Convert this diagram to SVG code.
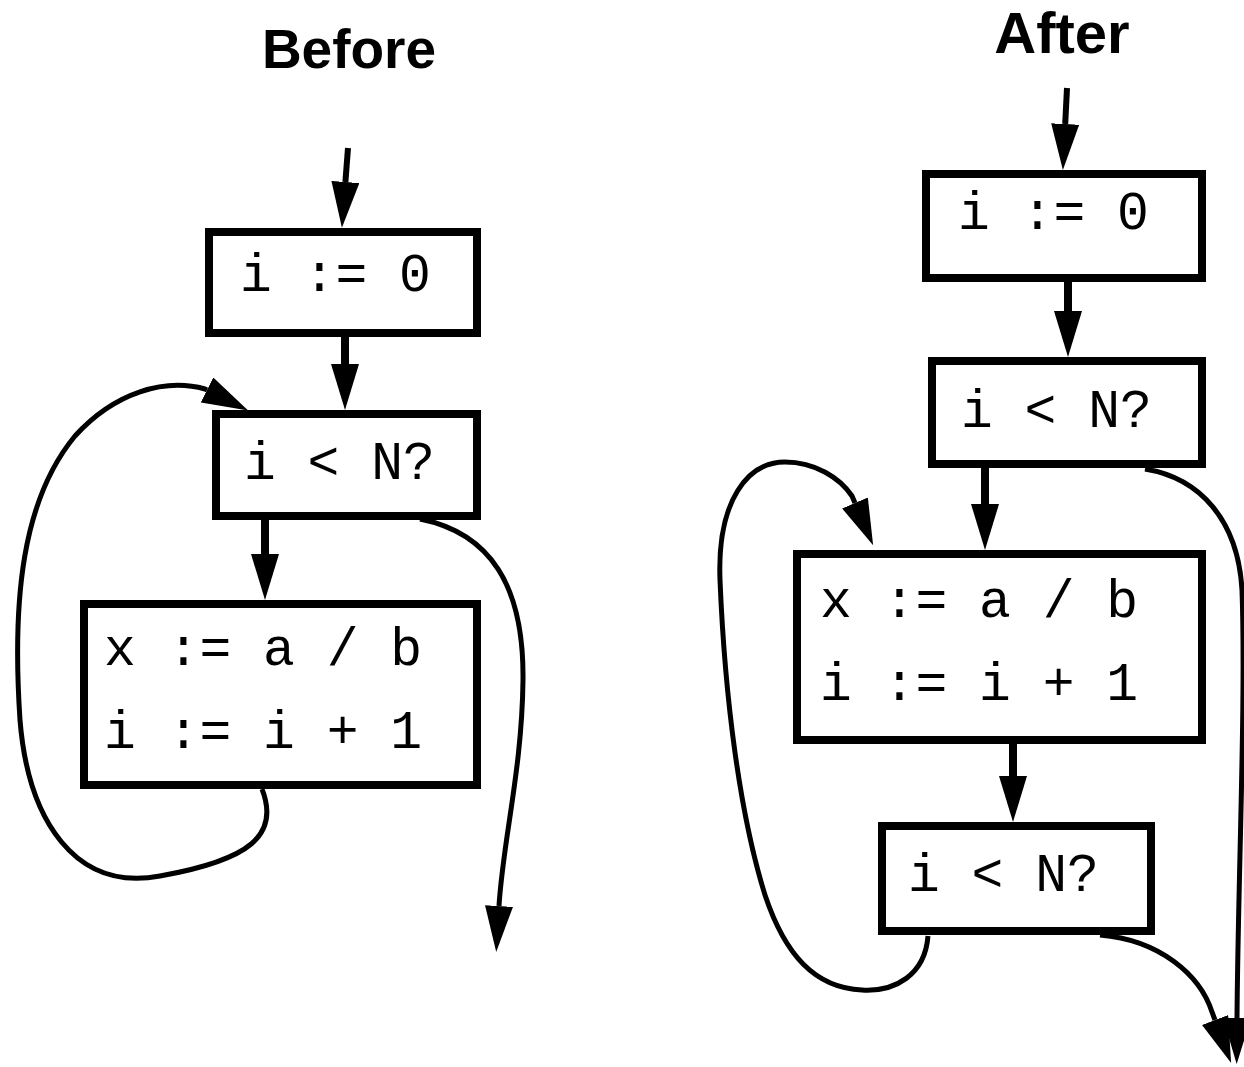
<svg xmlns="http://www.w3.org/2000/svg" width="1244" height="1067" viewBox="0 0 1244 1067">
<style>
.box{fill:#fff;stroke:#000;stroke-width:8}
.code{font-family:"Liberation Mono","DejaVu Sans Mono",monospace;font-size:53px;fill:#000}
.title{font-family:"Liberation Sans",Arial,sans-serif;font-weight:bold;font-size:55px;fill:#000;text-anchor:middle}
.thick{fill:none;stroke:#000;stroke-width:8;marker-end:url(#ah)}
.thin{fill:none;stroke:#000;stroke-width:5;marker-end:url(#ah)}
</style>
<defs>
<marker id="ah" viewBox="0 0 46 28" refX="0" refY="14" markerWidth="46" markerHeight="28" markerUnits="userSpaceOnUse" orient="auto">
<path d="M0,0 L46,14 L0,28 z" fill="#000"/>
</marker>
</defs>
<rect width="1244" height="1067" fill="#fff"/>
<text class="title" x="349" y="68">Before</text>
<text class="title" x="1062" y="53" style="font-size:58px">After</text>
<g id="L1"><rect class="box" x="209" y="232" width="268" height="101"/><text class="code" x="240" y="291" xml:space="preserve">i := 0</text></g>
<g id="L2"><rect class="box" x="216" y="414" width="261" height="102"/><text class="code" x="244" y="479" xml:space="preserve">i &lt; N?</text></g>
<g id="L3"><rect class="box" x="84" y="604" width="393" height="181"/><text class="code" x="104" y="665" xml:space="preserve">x := a / b</text><text class="code" x="104" y="748" xml:space="preserve">i := i + 1</text></g>
<g id="R1"><rect class="box" x="926" y="174" width="276" height="104"/><text class="code" x="958" y="229" xml:space="preserve">i := 0</text></g>
<g id="R2"><rect class="box" x="932" y="361" width="270" height="103"/><text class="code" x="961" y="427" xml:space="preserve">i &lt; N?</text></g>
<g id="R3"><rect class="box" x="797" y="554" width="405" height="186"/><text class="code" x="820" y="617" xml:space="preserve">x := a / b</text><text class="code" x="820" y="700" xml:space="preserve">i := i + 1</text></g>
<g id="R4"><rect class="box" x="882" y="826" width="269" height="105"/><text class="code" x="908" y="891" xml:space="preserve">i &lt; N?</text></g>
<g id="connectors">
<path class="thin" style="stroke-width:6" d="M348,148 L345.4,182"/>
<path class="thick" d="M345,337 V364"/>
<path class="thick" d="M265,520 V554"/>
<path class="thin" d="M262,789 C280,835 250,860 160,876 C75,892 28,820 20,720 C12,600 22,500 75,436 C115,392 165,378 205,389 L207,390"/>
<path class="thin" d="M420,519 C490,533 524,585 523,680 C522,770 503,840 499,906"/>
<path class="thin" style="stroke-width:6" d="M1067,88 L1065.2,124"/>
<path class="thick" d="M1068,282 V311"/>
<path class="thick" d="M985,468 V504"/>
<path class="thick" d="M1013,744 V776"/>
<path class="thin" d="M928,936 C925,975 895,992 862,990 C815,988 785,955 765,895 C740,815 725,700 720,580 C717,500 748,462 785,462 C815,462 840,478 852,496 L855,503"/>
<path class="thin" d="M1100,935 C1160,940 1200,975 1212,1012 L1215,1020"/>
<path class="thin" d="M1145,469 C1200,478 1238,520 1242,590 C1246,700 1238,880 1237,1018"/>
</g>
</svg>
